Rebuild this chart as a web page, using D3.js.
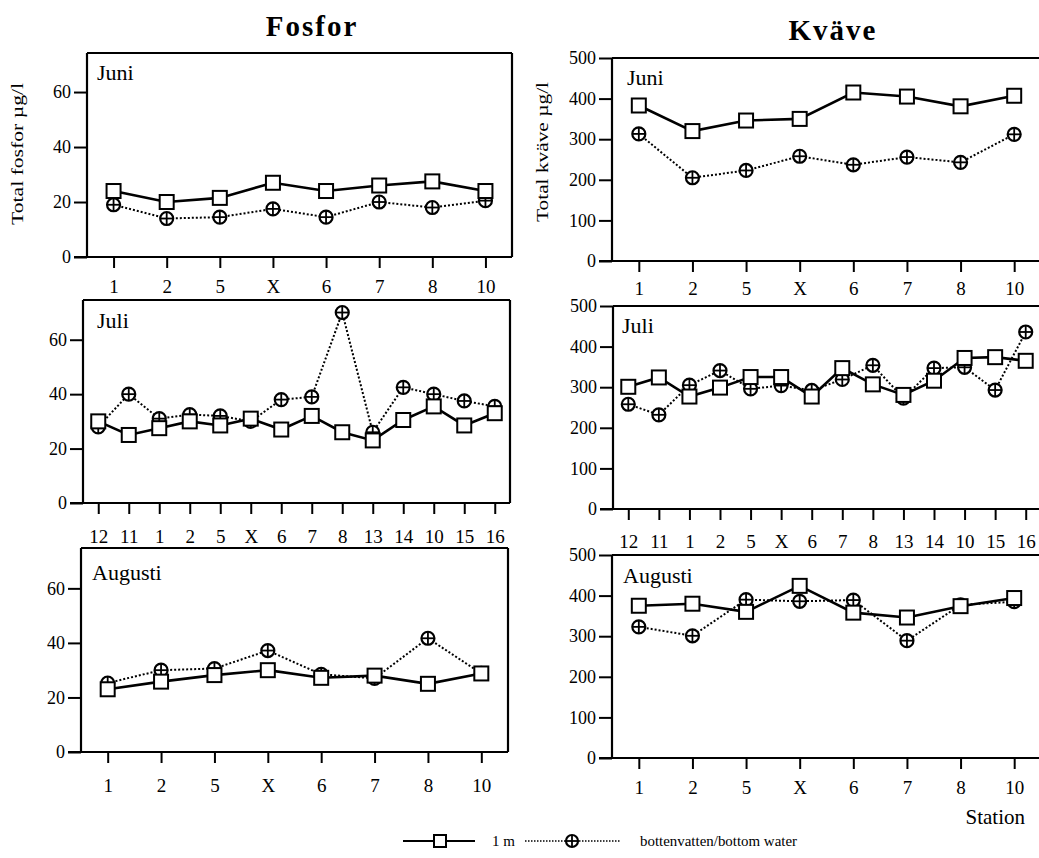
<!DOCTYPE html>
<html>
<head>
<meta charset="utf-8">
<script src="https://cdn.jsdelivr.net/npm/d3@7"></script>
<style>
  html, body { margin: 0; padding: 0; background: #fff; }
  svg { display: block; }
  text { font-family: "Liberation Serif", "Times New Roman", serif; fill: #000; }
</style>
</head>
<body>
<svg id="chart" width="1039" height="858"></svg>
<script>
// ---------------- DATA ----------------
const stations8 = ["1", "2", "5", "X", "6", "7", "8", "10"];
const stations14 = ["12", "11", "1", "2", "5", "X", "6", "7", "8", "13", "14", "10", "15", "16"];

const yTicksFosfor = [0, 20, 40, 60];
const yTicksKvave = [0, 100, 200, 300, 400, 500];

const fosforJuni1m     = [24, 20, 21.5, 27, 24, 26, 27.5, 24];
const fosforJuniBottom = [19, 14, 14.5, 17.5, 14.5, 20, 18, 20.5];
const kvaveJuni1m      = [383, 320, 346, 350, 415, 405, 381, 407];
const kvaveJuniBottom  = [313, 205, 223, 258, 237, 256, 243, 312];

const fosforJuli1m     = [30, 25, 27.5, 30, 28.5, 31, 27, 32, 26, 23, 30.5, 35.5, 28.5, 33];
const fosforJuliBottom = [28, 40, 31, 32.5, 32, 30, 38, 39, 70, 26, 42.5, 40, 37.5, 35.5];
const kvaveJuli1m      = [301, 324, 277, 299, 325, 325, 277, 347, 307, 281, 316, 372, 374, 365];
const kvaveJuliBottom  = [258, 232, 305, 341, 296, 304, 292, 319, 354, 273, 347, 349, 293, 436];

const fosforAug1m      = [23, 25.8, 28.2, 30, 27.2, 28, 25, 28.8];
const fosforAugBottom  = [25.3, 30, 30.6, 37.2, 28.5, 27, 41.7, 28.8];
const kvaveAug1m       = [375, 380, 360, 424, 358, 346, 374, 394];
const kvaveAugBottom   = [323, 301, 390, 386, 389, 289, 377, 385];

const monthLabels = ["Juni", "Juli", "Augusti"];
const titles = ["Fosfor", "Kväve"];
const yTitles = ["Total fosfor µg/l", "Total kväve µg/l"];
const legendLabels = ["1 m", "bottenvatten/bottom water"];
const xTitle = "Station";

// ---------------- LAYOUT ----------------
const svg = d3.select("#chart");
const FONT = '"Liberation Serif", "Times New Roman", serif';

const panels = [
  { month: monthLabels[0], st: stations8, a: fosforJuni1m, b: fosforJuniBottom, ticks: yTicksFosfor,
    left: 87, right: 512, top: 53, bottom: 257, yMax: 74.2, closed: true, lblX: 97, lblY: 80, xlab: 36 },
  { month: monthLabels[0], st: stations8, a: kvaveJuni1m, b: kvaveJuniBottom, ticks: yTicksKvave,
    left: 612, right: 1041, top: 58, bottom: 261, yMax: 500, closed: false, lblX: 627, lblY: 85, xlab: 34 },
  { month: monthLabels[1], st: stations14, a: fosforJuli1m, b: fosforJuliBottom, ticks: yTicksFosfor,
    left: 83, right: 510, top: 300, bottom: 503, yMax: 74.6, closed: true, lblX: 97, lblY: 328, xlab: 40 },
  { month: monthLabels[1], st: stations14, a: kvaveJuli1m, b: kvaveJuliBottom, ticks: yTicksKvave,
    left: 613, right: 1041, top: 306, bottom: 509, yMax: 500, closed: false, lblX: 622, lblY: 333, xlab: 39 },
  { month: monthLabels[2], st: stations8, a: fosforAug1m, b: fosforAugBottom, ticks: yTicksFosfor,
    left: 81, right: 508, top: 548, bottom: 752, yMax: 74.8, closed: true, lblX: 92, lblY: 580, xlab: 40 },
  { month: monthLabels[2], st: stations8, a: kvaveAug1m, b: kvaveAugBottom, ticks: yTicksKvave,
    left: 612, right: 1041, top: 555, bottom: 758, yMax: 500, closed: false, lblX: 623, lblY: 583, xlab: 36 }
];

function drawSquare(g, x, y, s) {
  g.append("rect").attr("x", x - s / 2).attr("y", y - s / 2).attr("width", s).attr("height", s)
    .attr("fill", "#fff").attr("stroke", "#000").attr("stroke-width", 2);
}
function drawCross(g, x, y, r) {
  g.append("circle").attr("cx", x).attr("cy", y).attr("r", r)
    .attr("fill", "#fff").attr("stroke", "#000").attr("stroke-width", 2.2);
  g.append("line").attr("x1", x - r).attr("x2", x + r).attr("y1", y).attr("y2", y)
    .attr("stroke", "#000").attr("stroke-width", 1.8);
  g.append("line").attr("x1", x).attr("x2", x).attr("y1", y - r).attr("y2", y + r)
    .attr("stroke", "#000").attr("stroke-width", 1.8);
}

panels.forEach(p => {
  const g = svg.append("g");
  const x = d3.scalePoint().domain(p.st).range([p.left, p.right]).padding(0.5);
  const y = d3.scaleLinear().domain([0, p.yMax]).range([p.bottom, p.top]);

  // y axis ticks
  const yAx = g.append("g").attr("transform", `translate(${p.left},0)`)
    .call(d3.axisLeft(y).tickValues(p.ticks).tickSize(13).tickPadding(3).tickFormat(d3.format("d")));
  yAx.select(".domain").remove();
  yAx.selectAll(".tick line").attr("stroke", "#000").attr("stroke-width", 2);
  yAx.selectAll(".tick text").attr("font-family", FONT).attr("font-size", 18).attr("fill", "#000");

  // x axis ticks
  const xAx = g.append("g").attr("transform", `translate(0,${p.bottom})`)
    .call(d3.axisBottom(x).tickSize(11).tickPadding(p.xlab - 11 - 13.5));
  xAx.select(".domain").remove();
  xAx.selectAll(".tick line").attr("stroke", "#000").attr("stroke-width", 2);
  xAx.selectAll(".tick text").attr("font-family", FONT).attr("font-size", 19).attr("fill", "#000");

  // frame
  const rightEdge = p.closed ? p.right : 1039;
  g.append("line").attr("x1", p.left - 13).attr("x2", rightEdge).attr("y1", p.bottom).attr("y2", p.bottom)
    .attr("stroke", "#000").attr("stroke-width", 2.2);
  g.append("line").attr("x1", p.left).attr("x2", p.left).attr("y1", p.bottom).attr("y2", p.top)
    .attr("stroke", "#000").attr("stroke-width", 2.2);
  g.append("line").attr("x1", p.left).attr("x2", rightEdge).attr("y1", p.top).attr("y2", p.top)
    .attr("stroke", "#000").attr("stroke-width", 2.2);
  if (p.closed) {
    g.append("line").attr("x1", p.right).attr("x2", p.right).attr("y1", p.top).attr("y2", p.bottom)
      .attr("stroke", "#000").attr("stroke-width", 2.2);
  }

  // month label
  g.append("text").attr("x", p.lblX).attr("y", p.lblY).attr("font-size", 22).text(p.month);

  const line = d3.line().x((d, i) => x(p.st[i])).y(d => y(d));

  // bottom water (dotted)
  g.append("path").datum(p.b).attr("d", line).attr("fill", "none")
    .attr("stroke", "#000").attr("stroke-width", 2).attr("stroke-dasharray", "2,2");
  p.b.forEach((v, i) => drawCross(g, x(p.st[i]), y(v), 6.5));

  // 1 m (solid)
  g.append("path").datum(p.a).attr("d", line).attr("fill", "none")
    .attr("stroke", "#000").attr("stroke-width", 2.6);
  p.a.forEach((v, i) => drawSquare(g, x(p.st[i]), y(v), 14));
});

// titles
svg.append("text").attr("x", 312).attr("y", 36).attr("text-anchor", "middle")
  .attr("font-size", 29).attr("font-weight", "bold").attr("letter-spacing", 2).text(titles[0]);
svg.append("text").attr("x", 833).attr("y", 40).attr("text-anchor", "middle")
  .attr("font-size", 29).attr("font-weight", "bold").attr("letter-spacing", 2).text(titles[1]);

// y titles
svg.append("text").attr("transform", "translate(23,154) rotate(-90)").attr("text-anchor", "middle")
  .attr("font-size", 16).attr("textLength", 142).attr("lengthAdjust", "spacingAndGlyphs").text(yTitles[0]);
svg.append("text").attr("transform", "translate(548,152) rotate(-90)").attr("text-anchor", "middle")
  .attr("font-size", 16).attr("textLength", 140).attr("lengthAdjust", "spacingAndGlyphs").text(yTitles[1]);

// x title
svg.append("text").attr("x", 1025).attr("y", 824).attr("text-anchor", "end")
  .attr("font-size", 21).text(xTitle);

// legend
const lg = svg.append("g");
lg.append("line").attr("x1", 403).attr("x2", 475).attr("y1", 841).attr("y2", 841)
  .attr("stroke", "#000").attr("stroke-width", 2);
drawSquare(lg, 440, 841, 12);
lg.append("text").attr("x", 492).attr("y", 846).attr("font-size", 15).text(legendLabels[0]);
lg.append("line").attr("x1", 525).attr("x2", 620).attr("y1", 841).attr("y2", 841)
  .attr("stroke", "#000").attr("stroke-width", 1.5).attr("stroke-dasharray", "1.5,1.5");
drawCross(lg, 572, 841, 6);
lg.append("text").attr("x", 640).attr("y", 846).attr("font-size", 15)
  .attr("textLength", 157).attr("lengthAdjust", "spacingAndGlyphs").text(legendLabels[1]);
</script>
</body>
</html>
